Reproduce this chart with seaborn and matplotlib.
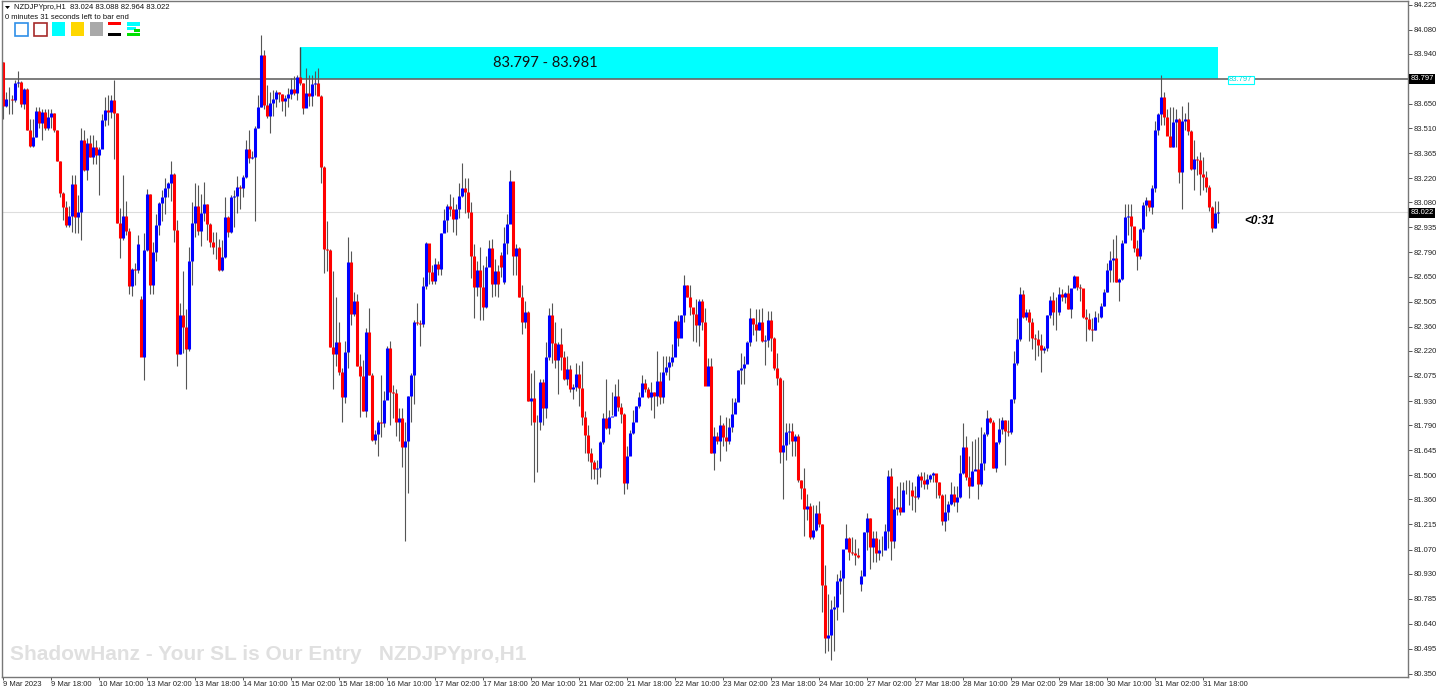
import numpy as np
import pandas as pd
import seaborn as sns
import matplotlib
matplotlib.use('Agg')
import matplotlib.pyplot as plt
from matplotlib.patches import Rectangle

# NZDJPY H1 bars (first bar is 9 Mar 02:00)
first_open = 83.893
closes = [
    83.638,83.679,83.676,83.672,83.771,83.777,83.650,83.737,83.499,83.407,
    83.459,83.609,83.540,83.604,83.511,83.575,83.598,83.499,83.320,83.135,
    83.053,82.949,83.001,83.187,82.996,83.025,83.441,83.268,83.424,83.343,
    83.401,83.355,83.389,83.557,83.615,83.604,83.673,83.598,82.961,82.874,
    83.001,82.915,82.596,82.694,82.686,82.839,82.185,82.804,83.129,82.602,
    82.793,82.949,83.077,83.111,83.163,83.192,83.245,82.920,82.202,82.428,
    82.359,82.231,82.741,82.961,83.059,82.915,83.019,83.071,82.955,82.851,
    82.822,82.819,82.689,82.764,82.996,82.909,83.111,83.117,83.169,83.163,
    83.227,83.389,83.337,83.343,83.511,83.632,83.934,83.644,83.580,83.656,
    83.679,83.719,83.708,83.667,83.685,83.708,83.737,83.714,83.806,83.771,
    83.627,83.714,83.696,83.766,83.771,83.696,83.285,82.810,82.804,82.243,
    82.202,82.272,82.098,81.953,82.214,82.735,82.434,82.509,82.133,82.075,
    81.872,82.330,82.081,81.704,81.739,81.809,81.803,81.936,82.237,81.982,
    81.979,81.809,81.832,81.664,81.699,81.959,82.081,82.388,82.382,82.376,
    82.596,82.845,82.677,82.625,82.723,82.694,82.903,82.978,83.059,83.042,
    82.984,83.042,83.117,83.163,83.140,83.025,82.770,82.590,82.689,82.590,
    82.474,82.706,82.816,82.608,82.683,82.608,82.706,82.845,82.955,83.204,
    82.770,82.816,82.532,82.388,82.446,81.930,81.948,81.809,81.806,82.040,
    81.890,82.185,82.428,82.266,82.168,82.260,82.185,82.058,82.116,82.000,
    82.011,82.087,82.006,81.838,81.733,81.629,81.577,81.537,81.542,81.693,
    81.832,81.774,81.838,81.843,81.959,81.895,81.855,81.455,81.612,81.745,
    81.809,81.901,81.953,82.034,82.000,81.953,81.982,81.959,82.046,81.953,
    82.098,82.127,82.156,82.185,82.394,82.295,82.428,82.602,82.532,82.474,
    82.434,82.370,82.509,82.388,82.017,82.133,81.629,81.728,81.699,81.791,
    81.722,81.699,81.780,81.855,81.925,82.110,82.121,82.145,82.272,82.411,
    82.376,82.341,82.388,82.278,82.283,82.399,82.295,82.121,82.063,81.635,
    81.675,81.751,81.756,81.699,81.728,81.473,81.427,81.305,81.322,81.143,
    81.183,81.282,81.218,80.865,80.558,80.575,80.726,80.737,80.888,80.905,
    81.073,81.137,81.056,81.050,81.039,81.027,80.917,81.172,81.253,81.085,
    81.137,81.050,81.068,81.065,81.178,81.496,81.120,81.305,81.317,81.288,
    81.415,81.412,81.415,81.380,81.374,81.496,81.473,81.450,81.479,81.502,
    81.513,81.461,81.386,81.235,81.288,81.334,81.392,81.345,81.374,81.513,
    81.664,81.490,81.438,81.525,81.537,81.450,81.571,81.739,81.832,81.809,
    81.542,81.693,81.768,81.820,81.756,81.751,81.942,82.150,82.289,82.550,
    82.417,82.446,82.388,82.295,82.289,82.255,82.226,82.237,82.428,82.515,
    82.446,82.446,82.550,82.532,82.556,82.463,82.585,82.654,82.590,82.585,
    82.417,82.405,82.347,82.341,82.417,82.417,82.480,82.561,82.689,82.747,
    82.758,82.619,82.637,82.845,82.996,83.001,82.943,82.816,82.770,82.926,
    83.065,83.094,83.053,83.163,83.499,83.592,83.690,83.575,83.465,83.401,
    83.546,83.563,83.256,83.551,83.563,83.493,83.273,83.331,83.325,83.245,
    83.227,83.169,83.053,82.932,83.019,83.022,
]
highs = [
    83.89,83.72,83.75,83.70,83.79,83.84,83.78,83.74,83.74,83.56,
    83.56,83.63,83.63,83.62,83.62,83.62,83.62,83.60,83.50,83.32,
    83.14,83.09,83.06,83.24,83.24,83.12,83.51,83.50,83.45,83.47,
    83.47,83.44,83.40,83.59,83.69,83.70,83.70,83.79,83.60,83.05,
    83.24,83.09,82.93,82.70,82.73,82.89,82.54,82.90,83.16,83.13,
    82.85,83.01,83.08,83.15,83.22,83.20,83.32,83.25,82.98,82.50,
    82.68,82.46,82.82,83.08,83.19,83.18,83.13,83.20,83.07,82.96,
    82.91,82.91,82.87,82.86,83.11,83.00,83.12,83.15,83.23,83.18,
    83.24,83.44,83.50,83.38,83.52,83.70,84.05,83.96,83.76,83.72,
    83.73,83.73,83.72,83.71,83.70,83.74,83.80,83.81,83.82,83.82,
    83.77,83.86,83.82,83.82,83.84,83.86,83.70,83.29,82.97,82.81,
    82.68,82.53,82.39,82.12,82.28,82.88,82.80,82.56,82.55,82.20,
    82.17,82.35,82.47,82.09,81.76,81.82,82.08,81.99,82.25,82.28,
    82.02,82.00,81.89,81.89,81.81,81.96,82.09,82.40,82.50,82.40,
    82.65,82.85,82.83,82.72,82.76,82.74,82.90,83.04,83.07,83.13,
    83.11,83.07,83.19,83.31,83.22,83.22,83.08,82.84,82.74,82.82,
    82.72,82.77,82.86,82.87,82.75,82.72,82.79,82.94,83.01,83.27,
    83.20,82.84,82.82,82.60,82.51,82.45,82.09,82.11,81.85,82.06,
    82.06,82.27,82.47,82.50,82.39,82.27,82.35,82.22,82.19,82.14,
    82.03,82.15,82.14,82.16,81.87,81.79,81.66,81.59,81.59,81.70,
    81.86,82.06,81.88,81.98,82.03,82.06,81.92,81.86,81.67,81.76,
    81.88,81.90,81.98,82.08,82.06,82.01,82.04,81.98,82.22,82.10,
    82.19,82.19,82.19,82.26,82.40,82.43,82.43,82.66,82.60,82.60,
    82.47,82.52,82.52,82.52,82.47,82.18,82.18,81.78,81.75,81.85,
    81.80,81.84,81.83,81.95,81.95,82.11,82.21,82.19,82.28,82.47,
    82.41,82.46,82.46,82.47,82.31,82.45,82.45,82.30,82.21,82.07,
    82.05,81.80,81.80,81.80,81.74,81.74,81.47,81.54,81.39,81.34,
    81.33,81.33,81.35,81.22,80.98,80.81,80.78,80.80,80.93,80.95,
    81.07,81.22,81.14,81.14,81.13,81.08,80.95,81.17,81.28,81.25,
    81.18,81.18,81.13,81.15,81.22,81.53,81.54,81.37,81.44,81.46,
    81.46,81.47,81.47,81.46,81.44,81.51,81.52,81.52,81.51,81.51,
    81.52,81.51,81.46,81.39,81.39,81.35,81.46,81.44,81.44,81.62,
    81.80,81.73,81.61,81.70,81.71,81.72,81.78,81.75,81.88,81.84,
    81.82,81.69,81.83,81.84,81.82,81.82,81.94,82.22,82.41,82.59,
    82.57,82.46,82.46,82.41,82.32,82.34,82.32,82.25,82.43,82.54,
    82.56,82.53,82.59,82.58,82.56,82.60,82.58,82.66,82.62,82.61,
    82.57,82.46,82.44,82.41,82.45,82.44,82.50,82.58,82.73,82.80,
    82.87,82.89,82.64,82.86,83.07,83.07,83.07,82.94,82.86,82.93,
    83.08,83.11,83.09,83.18,83.55,83.60,83.82,83.72,83.62,83.63,
    83.63,83.62,83.57,83.64,83.60,83.66,83.50,83.44,83.35,83.37,
    83.34,83.26,83.18,83.06,83.09,83.09,
]
lows = [
    83.56,83.63,83.59,83.59,83.66,83.75,83.63,83.62,83.50,83.40,
    83.40,83.46,83.51,83.44,83.50,83.50,83.51,83.49,83.32,83.11,
    82.98,82.94,82.94,82.91,82.90,82.90,82.86,83.26,83.21,83.34,
    83.30,83.30,83.12,83.41,83.52,83.53,83.57,83.33,82.96,82.76,
    82.86,82.89,82.55,82.54,82.60,82.67,82.19,82.05,82.80,82.55,
    82.55,82.74,82.89,82.97,83.01,83.11,83.09,82.85,82.13,82.20,
    82.21,82.00,82.22,82.60,82.88,82.89,82.83,82.97,82.86,82.82,
    82.78,82.75,82.68,82.68,82.76,82.88,82.90,82.94,83.02,83.04,
    83.11,83.22,83.31,83.33,82.97,83.51,83.63,83.62,83.57,83.48,
    83.58,83.63,83.66,83.61,83.58,83.63,83.68,83.70,83.67,83.76,
    83.59,83.63,83.64,83.64,83.70,83.70,83.19,82.67,82.68,82.24,
    82.00,82.13,82.08,81.81,81.92,82.12,82.37,82.42,82.13,81.84,
    81.87,81.84,82.08,81.70,81.68,81.61,81.72,81.78,81.94,81.79,
    81.83,81.73,81.70,81.55,81.12,81.40,81.81,81.91,82.37,82.25,
    82.36,82.58,82.61,82.61,82.61,82.66,82.66,82.91,82.91,83.00,
    82.91,82.89,82.99,83.11,83.02,82.99,82.64,82.41,82.54,82.40,
    82.40,82.47,82.71,82.53,82.54,82.53,82.65,82.61,82.78,82.98,
    82.66,82.66,82.53,82.32,82.35,81.93,81.79,81.46,81.52,81.76,
    81.79,81.83,82.17,82.15,82.12,81.97,82.11,82.05,82.02,81.98,
    81.94,81.99,81.90,81.79,81.63,81.58,81.48,81.48,81.45,81.49,
    81.68,81.77,81.74,81.85,81.88,81.87,81.80,81.39,81.42,81.74,
    81.74,81.84,81.89,81.97,81.98,81.95,81.88,81.83,81.90,81.91,
    81.92,82.08,82.05,82.13,82.21,82.25,82.39,82.39,82.53,82.43,
    82.28,82.27,82.25,82.34,82.02,82.11,81.63,81.53,81.68,81.58,
    81.67,81.64,81.68,81.75,81.88,82.02,82.03,82.03,82.27,82.25,
    82.31,82.28,82.34,82.27,82.14,82.24,82.22,82.11,82.02,81.57,
    81.36,81.59,81.68,81.61,81.61,81.46,81.36,81.15,81.24,81.13,
    81.13,81.18,81.20,80.71,80.47,80.48,80.43,80.48,80.66,80.81,
    80.71,81.08,81.01,81.04,80.98,81.02,80.83,80.92,81.07,80.96,
    81.00,81.00,81.01,81.03,81.08,81.08,81.01,81.08,81.27,81.27,
    81.30,81.39,81.33,81.30,81.29,81.36,81.43,81.42,81.42,81.46,
    81.46,81.37,81.37,81.21,81.18,81.24,81.33,81.32,81.29,81.37,
    81.51,81.47,81.37,81.44,81.53,81.36,81.44,81.53,81.73,81.80,
    81.54,81.52,81.68,81.74,81.56,81.73,81.74,81.92,82.14,82.28,
    82.41,82.40,82.28,82.23,82.17,82.19,82.10,82.21,82.22,82.41,
    82.37,82.34,82.43,82.51,82.50,82.46,82.41,82.59,82.57,82.51,
    82.41,82.28,82.34,82.28,82.34,82.39,82.41,82.48,82.56,82.62,
    82.62,82.62,82.51,82.63,82.85,82.89,82.86,82.79,82.69,82.75,
    82.91,83.00,83.03,83.01,83.14,83.47,83.53,83.53,83.47,83.40,
    83.40,83.40,83.19,83.04,83.50,83.47,83.27,83.15,83.24,83.12,
    83.15,83.14,83.03,82.91,82.93,82.96,
]
# bars that do not open at the previous close (weekend gaps)
gap_bars = [46, 166, 167, 286]
gap_opens = [82.521, 82.776, 82.619, 80.871]

tick_bars = [i * 16 for i in range(26)]
tick_labels = ['9 Mar 2023','9 Mar 18:00','10 Mar 10:00','13 Mar 02:00','13 Mar 18:00','14 Mar 10:00',
               '15 Mar 02:00','15 Mar 18:00','16 Mar 10:00','17 Mar 02:00','17 Mar 18:00','20 Mar 10:00',
               '21 Mar 02:00','21 Mar 18:00','22 Mar 10:00','23 Mar 02:00','23 Mar 18:00','24 Mar 10:00',
               '27 Mar 02:00','27 Mar 18:00','28 Mar 10:00','29 Mar 02:00','29 Mar 18:00','30 Mar 10:00',
               '31 Mar 02:00','31 Mar 18:00']
price_ticks = [84.225,84.080,83.940,83.650,83.510,83.365,83.220,83.080,82.935,82.790,82.650,82.505,
               82.360,82.220,82.075,81.930,81.790,81.645,81.500,81.360,81.215,81.070,80.930,80.785,
               80.640,80.495,80.350]
zone_low, zone_high = 83.797, 83.981
last_price = 83.022

df = pd.DataFrame({'bar': range(len(closes)), 'close': closes, 'high': highs, 'low': lows})
df['open'] = df['close'].shift().fillna(first_open)
df.loc[gap_bars, 'open'] = gap_opens
df['dir'] = np.where(df['close'] >= df['open'], 'up', 'down')

wicks = df.melt(id_vars=['bar'], value_vars=['low', 'high'], value_name='price')
bodies = df.melt(id_vars=['bar', 'dir'], value_vars=['open', 'close'], value_name='price')

sns.set_style('white')
plt.rcParams['font.family'] = ['Liberation Sans', 'DejaVu Sans']

W, H = 1438, 693
fig = plt.figure(figsize=(W / 100, H / 100), dpi=100)
ax = fig.add_axes([2 / W, 1 - 677 / H, 1406 / W, 676 / H])

# zone and levels go under the candles
ax.add_patch(Rectangle((99, zone_low), 306, zone_high - zone_low, color='#00ffff', lw=0, zorder=0))
ax.vlines(99, zone_low, zone_high, color='#444444', lw=1, zorder=1)
ax.axhline(zone_low, color='#666666', lw=1.2, zorder=1)
ax.axhline(last_price, color='#dddddd', lw=0.8, zorder=1)

sns.lineplot(data=wicks, x='bar', y='price', units='bar', estimator=None, sort=False,
             color='#555555', linewidth=0.8, legend=False, ax=ax, solid_capstyle='butt')
sns.lineplot(data=bodies, x='bar', y='price', units='bar', estimator=None, sort=False,
             hue='dir', palette={'up': '#0000ff', 'down': '#ff0000'}, linewidth=2.2,
             legend=False, ax=ax, solid_capstyle='butt')

ax.set_xlim(-0.17, 468.5)
ax.set_ylim(80.332, 84.246)
ax.set_xlabel('')
ax.set_ylabel('')
ax.set_xticks(tick_bars)
ax.set_xticklabels(tick_labels, ha='left', fontsize=5.5, color='#222222')
ax.yaxis.tick_right()
ax.set_yticks(price_ticks)
ax.set_yticklabels([f'{p:.3f}' for p in price_ticks], fontsize=5.5, color='#222222')
ax.tick_params(axis='x', length=2, width=0.7, color='#555555', pad=1, bottom=True)
ax.tick_params(axis='y', length=3, width=0.7, color='#555555', pad=1, right=True)
for s in ax.spines.values():
    s.set_color('#777777')
    s.set_linewidth(1)

ax.text(181, 83.889, '83.797 - 83.981', family='Lato', fontsize=10.5, color='#111111', ha='center', va='center')
ax.text(414, 82.975, '<0:31', fontsize=8.5, color='black', style='italic', weight='bold', va='center')

# terminal decorations, placed in screen pixels
ui = fig.add_axes([0, 0, 1, 1], zorder=5)
ui.set_xlim(0, W)
ui.set_ylim(H, 0)
ui.axis('off')
ui.patch.set_alpha(0)
ui.fill([5, 10, 7.5], [6, 6, 9], color='black', lw=0)
ui.text(14, 7.5, 'NZDJPYpro,H1  83.024 83.088 82.964 83.022', fontsize=5.5, color='#111111', va='center')
ui.text(5, 17.5, '0 minutes 31 seconds left to bar end', fontsize=5.5, color='#111111', va='center')
ui.add_patch(Rectangle((14.5, 22.5), 13, 13, fc='white', ec='#2f8fe8', lw=1.2))
ui.add_patch(Rectangle((33.5, 22.5), 13, 13, fc='white', ec='#a52a2a', lw=1.2))
ui.add_patch(Rectangle((52, 22), 13, 14, fc='#00ffff', lw=0))
ui.add_patch(Rectangle((71, 22), 13, 14, fc='#ffd700', lw=0))
ui.add_patch(Rectangle((90, 22), 13, 14, fc='#a9a9a9', lw=0))
ui.add_patch(Rectangle((108, 22), 13, 3, fc='#ff0000', lw=0))
ui.add_patch(Rectangle((108, 33), 13, 3, fc='black', lw=0))
ui.add_patch(Rectangle((127, 22), 13, 4, fc='#00ffff', lw=0))
ui.add_patch(Rectangle((127, 27), 9, 3, fc='#00ffff', lw=0))
ui.add_patch(Rectangle((134, 29), 6, 3, fc='#00e000', lw=0))
ui.add_patch(Rectangle((127, 33), 13, 3, fc='#00e000', lw=0))

ui.add_patch(Rectangle((1227.5, 75.5), 26, 8, fc='white', ec='#00ffff', lw=0.8))
ui.text(1240.5, 79.5, '83.797', fontsize=5.5, color='#00dddd', ha='center', va='center')
for y, label in [(79, '83.797'), (213, '83.022')]:
    ui.add_patch(Rectangle((1409, y - 5), 26, 10, fc='black', lw=0))
    ui.text(1422, y, label, fontsize=5.5, color='white', ha='center', va='center')

ui.text(10, 655, 'ShadowHanz - Your SL is Our Entry   NZDJPYpro,H1', weight='bold',
        fontsize=15, color='#e0e0e0', va='center')

fig.savefig('out.png', dpi=100)
